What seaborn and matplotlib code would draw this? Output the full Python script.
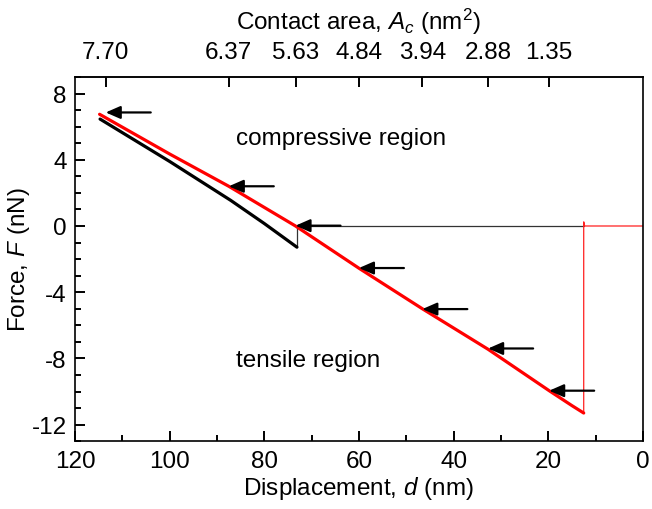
import pandas as pd
import numpy as np
import seaborn as sns
import matplotlib.pyplot as plt

# values
# loading curve (red, thick)
red_d = [114.8, 100.0, 87.5, 73.4, 60.0, 46.6, 32.7, 19.8, 15.0, 12.5]
red_F = [6.75, 4.35, 2.40, 0.0, -2.55, -5.00, -7.45, -9.95, -10.85, -11.30]
# snap-off part of red curve (thin)
red_tail_d = [12.5, 12.5, 12.3, 0.0]
red_tail_F = [-11.30, 0.25, 0.0, 0.0]
# black curve (thick) and its jump back to zero (thin)
blk_d = [114.7, 100.0, 87.1, 80.0, 73.1]
blk_F = [6.46, 3.90, 1.55, 0.15, -1.28]
blk_tail_d = [73.1, 73.1, 12.5]
blk_tail_F = [-1.28, 0.0, 0.0]

# arrows / contact area ticks
arrow_d = [113.5, 87.5, 73.4, 60.0, 46.6, 32.7, 19.8]
arrow_F = [6.86, 2.40, 0.02, -2.54, -5.02, -7.40, -9.95]
area_labels = ['7.70', '6.37', '5.63', '4.84', '3.94', '2.88', '1.35']

sns.set_style('ticks')
plt.rcParams['font.family'] = ['Liberation Sans', 'DejaVu Sans']
plt.rcParams['mathtext.fontset'] = 'custom'
plt.rcParams['mathtext.rm'] = 'Liberation Sans'
plt.rcParams['mathtext.it'] = 'Liberation Sans:italic'
plt.rcParams['axes.unicode_minus'] = False
plt.rcParams['axes.axisbelow'] = False
for k in ['text.color', 'axes.labelcolor', 'xtick.color', 'ytick.color']:
    plt.rcParams[k] = 'black'

fs = 17.5

fig = plt.figure(figsize=(6.52, 5.10), dpi=100)
ax = fig.add_axes([0.115, 0.133, 0.871, 0.714])
ax.set_axisbelow(False)

df_blk = pd.DataFrame({'d': blk_d, 'F': blk_F})
df_blk_t = pd.DataFrame({'d': blk_tail_d, 'F': blk_tail_F})
df_red = pd.DataFrame({'d': red_d, 'F': red_F})
df_red_t = pd.DataFrame({'d': red_tail_d, 'F': red_tail_F})

kw = dict(x='d', y='F', sort=False, estimator=None, ax=ax)
sns.lineplot(data=df_blk_t, color='#333333', lw=0.9, **kw)
sns.lineplot(data=df_blk, color='black', lw=2.3, **kw)
sns.lineplot(data=df_red_t, color='#ff2020', lw=0.9, **kw)
sns.lineplot(data=df_red, color='#ff0000', lw=2.3, **kw)

for d, F in zip(arrow_d, arrow_F):
    ax.annotate('', xy=(d, F), xytext=(45, 0), textcoords='offset pixels',
                arrowprops=dict(arrowstyle='-|>,head_length=0.8,head_width=0.35',
                                mutation_scale=11, color='black', lw=1.6,
                                shrinkA=0, shrinkB=0))

ax.text(86.0, 5.34, 'compressive region', fontsize=fs, va='center', ha='left')
ax.text(86.0, -8.08, 'tensile region', fontsize=fs, va='center', ha='left')

ax.set_xlim(120, 0)
ax.set_ylim(-13, 9)
ax.set_xticks(np.arange(0, 121, 20))
ax.set_xticks(np.arange(0, 121, 10), minor=True)
ax.set_yticks(np.arange(-12, 9, 4))
ax.set_yticks(np.arange(-13, 10, 1), minor=True)
ax.tick_params(which='both', direction='in', top=False, right=False,
               labelsize=fs, width=1.4, color='black')
ax.tick_params(which='major', length=7)
ax.tick_params(which='minor', length=4)
ax.tick_params(axis='x', pad=6)
ax.tick_params(axis='y', pad=6)
ax.set_xlabel(r'Displacement, $d$ (nm)', fontsize=fs, labelpad=2)
ax.set_ylabel(r'Force, $F$ (nN)', fontsize=fs, labelpad=0)
for s in ax.spines.values():
    s.set_visible(True)
    s.set_linewidth(1.2)
    s.set_color('black')

# contact area axis on top, ticks at the arrow positions
top = ax.secondary_xaxis('top')
top.set_xticks(arrow_d)
top.set_xticklabels(area_labels)
top.xaxis.set_minor_locator(plt.NullLocator())
top.tick_params(axis='x', which='major', direction='in', length=7, width=1.4,
                labelsize=fs, pad=10, color='black')
top.spines['top'].set_linewidth(1.2)
top.set_xlabel(r'Contact area, $A_c$ (nm$^2$)', fontsize=fs, labelpad=9)

fig.savefig('out.png', dpi=100)
